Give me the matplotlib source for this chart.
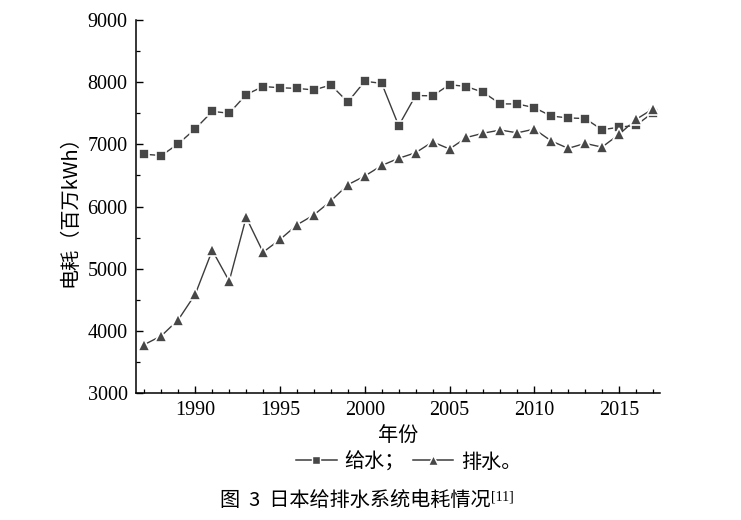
import matplotlib
matplotlib.use("Agg")
import matplotlib.pyplot as plt
from matplotlib.lines import Line2D
from matplotlib.ticker import MultipleLocator

years = list(range(1987, 2018))
supply = [6840, 6820, 7010, 7250, 7530, 7500, 7800, 7930, 7910, 7900,
          7875, 7955, 7680, 8015, 7980, 7300, 7785, 7780, 7960, 7930,
          7835, 7650, 7650, 7590, 7455, 7425, 7415, 7235, 7275, 7305, 7510]
drainage = [3780, 3920, 4180, 4590, 5295, 4800, 5825, 5265, 5470, 5705,
            5865, 6090, 6350, 6490, 6660, 6775, 6865, 7040, 6925, 7110,
            7180, 7230, 7185, 7245, 7055, 6935, 7015, 6955, 7160, 7400, 7570]
series_labels = ["给水；", "排水。"]
x_label = "年份"
y_label = "电耗（百万kWh）"
caption = "图 3 日本给排水系统电耗情况"
caption_ref = "[11]"

CJK = ["Noto Sans CJK SC", "DejaVu Sans"]
SERIF = ["Liberation Serif", "DejaVu Serif"]

fig = plt.figure(figsize=(7.41, 5.2), dpi=100)
ax = fig.add_axes([136/741, 1-393/520, (660-136)/741, (393-20)/520])

col = "#474747"
lc = "#3c3c3c"
ax.plot(years, supply, color=lc, lw=1.0, marker="s", ms=7, mfc=col,
        mec="white", mew=1.2, zorder=3)
ax.plot(years, drainage, color=lc, lw=1.0, marker="^", ms=8.5, mfc=col,
        mec="white", mew=1.2, zorder=3)

ax.set_xlim(1986.5, 2017.42)
ax.set_ylim(3000, 9000)
ax.xaxis.set_major_locator(MultipleLocator(5))
ax.xaxis.set_minor_locator(MultipleLocator(1))
ax.yaxis.set_major_locator(MultipleLocator(1000))
ax.yaxis.set_minor_locator(MultipleLocator(500))
ax.set_xticks([1990, 1995, 2000, 2005, 2010, 2015])

for s in ["top", "right"]:
    ax.spines[s].set_visible(False)
for s in ["left", "bottom"]:
    ax.spines[s].set_linewidth(1.1)

ax.tick_params(which="major", direction="in", length=5, width=1.0,
               labelsize=14.5)
ax.tick_params(axis="y", which="major", pad=6)
ax.tick_params(axis="x", which="major", pad=6)
ax.tick_params(which="minor", direction="in", length=3, width=0.9)
for lab in ax.get_xticklabels() + ax.get_yticklabels():
    lab.set_family(SERIF)

ax.set_xlabel(x_label, family=CJK, fontsize=14.5, labelpad=3, fontweight="light")
ax.set_ylabel(y_label, family=CJK, fontsize=14.5, labelpad=5, fontweight="light")

handles = [
    Line2D([], [], color=lc, lw=1.1, marker="s", ms=6, mfc=col, mec="white", mew=1.0),
    Line2D([], [], color=lc, lw=1.1, marker="^", ms=7.5, mfc=col, mec="white", mew=1.0),
]
fig.legend(handles, series_labels, loc="center", bbox_to_anchor=(409/741, 1-462/520),
           ncol=2, frameon=False,
           prop={"family": CJK, "size": 14.5, "weight": "light"},
           handlelength=2.0, handletextpad=0.4, columnspacing=0.4)

t = fig.text(355/741, 1-500/520, caption.replace(" ", "  "), family=CJK, fontsize=14.5,
             fontweight="light", ha="center", va="center")
fig.canvas.draw()
bb = t.get_window_extent(fig.canvas.get_renderer())
fig.text(bb.x1/741 + 0.001, bb.y1/520 - 0.014, caption_ref, family=SERIF,
         fontsize=10, ha="left", va="center")

fig.savefig("out.png", dpi=100)
